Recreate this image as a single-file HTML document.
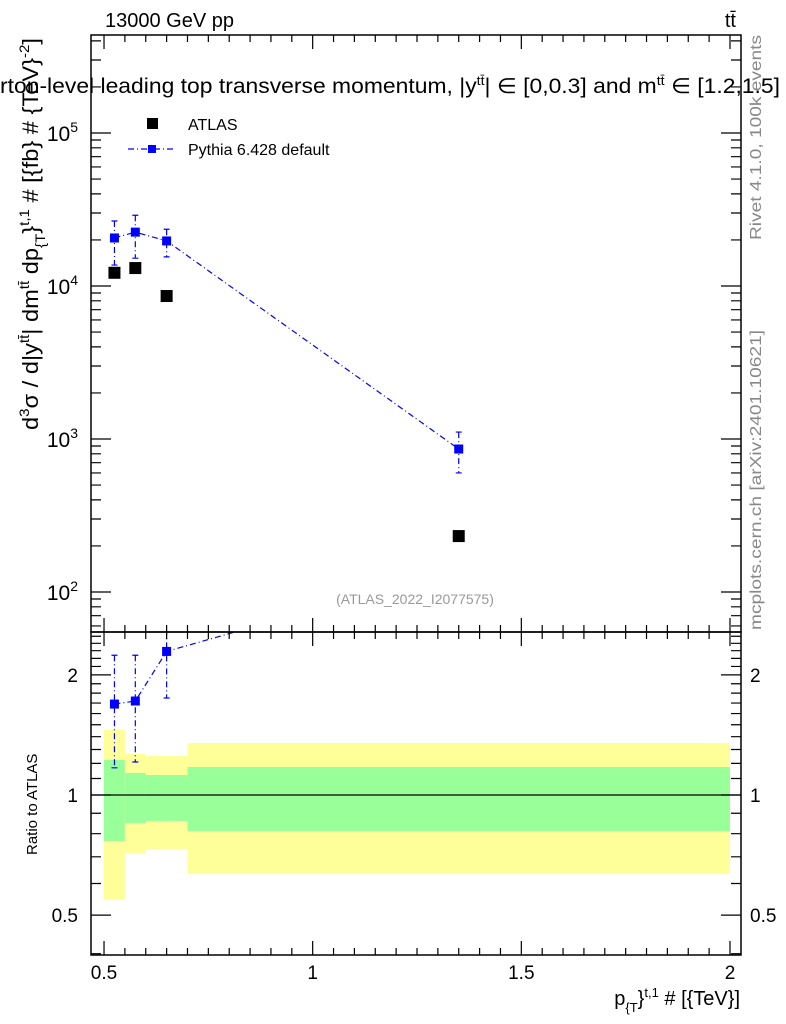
<!DOCTYPE html>
<html><head><meta charset="utf-8"><style>
html,body{margin:0;padding:0;background:#fff}
svg{display:block;font-family:"Liberation Sans",sans-serif}
</style></head><body>
<svg id="c" width="786" height="1024" viewBox="0 0 786 1024">
<defs><clipPath id="cm"><rect x="91" y="35" width="650" height="597"/></clipPath>
<clipPath id="cr"><rect x="91" y="632" width="650" height="323"/></clipPath></defs>
<g id="bands" clip-path="url(#cr)"></g>
<g id="marks"></g>
<g id="axes"></g>
<text x="105" y="27" font-size="20">13000 GeV pp</text>
<text x="736" y="27" font-size="20" text-anchor="end">tt̄</text>
<text x="0" y="93" font-size="21" textLength="780" lengthAdjust="spacingAndGlyphs">rton-level leading top transverse momentum, |y<tspan dy="-8" font-size="13">tt̄</tspan><tspan dy="8">| ∈ [0,0.3] and m</tspan><tspan dy="-8" font-size="13">tt̄</tspan><tspan dy="8"> ∈ [1.2,1.5]</tspan></text>
<rect x="147" y="118" width="11" height="11" fill="#000"/>
<text x="188" y="130" font-size="16">ATLAS</text>
<line x1="128" y1="149" x2="176" y2="149" stroke="#00f" stroke-width="1.2" stroke-dasharray="6,3,1,3"/>
<rect x="148" y="145" width="8" height="8" fill="#00f"/>
<text x="188" y="155" font-size="16">Pythia 6.428 default</text>
<text x="415" y="604" font-size="14" fill="#999" text-anchor="middle">(ATLAS_2022_I2077575)</text>
<text transform="translate(761,240) rotate(-90)" font-size="16" fill="#888" textLength="205" lengthAdjust="spacingAndGlyphs">Rivet 4.1.0,  100k events</text>
<text transform="translate(761,630) rotate(-90)" font-size="16" fill="#888" textLength="300" lengthAdjust="spacingAndGlyphs">mcplots.cern.ch [arXiv:2401.10621]</text>
<text transform="translate(38,430) rotate(-90)" font-size="22" textLength="392" lengthAdjust="spacingAndGlyphs">d<tspan dy="-9" font-size="14">3</tspan><tspan dy="9">σ / d|y</tspan><tspan dy="-9" font-size="14">tt̄</tspan><tspan dy="9">| dm</tspan><tspan dy="-9" font-size="14">tt̄</tspan><tspan dy="9"> dp</tspan><tspan dy="7" font-size="14">{T</tspan><tspan dy="-7">}</tspan><tspan dy="-9" font-size="14">t,1</tspan><tspan dy="9"> # [{fb} # {TeV}</tspan><tspan dy="-9" font-size="14">-2</tspan><tspan dy="9">]</tspan></text>
<text transform="translate(37,855) rotate(-90)" font-size="15">Ratio to ATLAS</text>
<text x="740" y="1005" font-size="20" text-anchor="end">p<tspan dy="7" font-size="13">{T</tspan><tspan dy="-7">}</tspan><tspan dy="-8" font-size="13">t,1</tspan><tspan dy="8"> # [{TeV}]</tspan></text>
</svg>
<script>
const binLo=[0.5,0.55,0.6,0.7];
const binHi=[0.55,0.6,0.7,2.0];
const xVals=[0.525,0.575,0.65,1.35];
const atlas=[12200,13100,8600,232];
const pythia=[20600,22500,19700,860];
const pythiaUp=[26600,29000,23500,1110];
const pythiaDn=[13700,15200,15500,600];
const ratio=[1.69,1.72,2.29,3.7];
const ratioUp=[2.24,2.24,2.6,4.8];
const ratioDn=[1.17,1.21,1.75,2.6];
const yellowUp=[1.455,1.267,1.252,1.35];
const yellowDn=[0.546,0.716,0.732,0.634];
const greenUp=[1.224,1.135,1.122,1.175];
const greenDn=[0.767,0.851,0.861,0.812];
const xTicks=[0.5,1,1.5,2];
const xTickLabels=["0.5","1","1.5","2"];
const yTicks=[100,1000,10000,100000];
const yTickLabels=["2","3","4","5"];
const rTicks=[0.5,1,2];
const rTickLabels=["0.5","1","2"];

const NS="http://www.w3.org/2000/svg";
const X0=91,X1=741,XA=0.4688,XB=2.0264;
const sx=v=>X0+(v-XA)/(XB-XA)*(X1-X0);
const sy=v=>286-(Math.log10(v)-4)*153;
const sr=v=>795-Math.log10(v)*399;
function mk(p,t,a){const e=document.createElementNS(NS,t);for(const k in a)e.setAttribute(k,a[k]);p.appendChild(e);return e;}
const B=document.getElementById('bands'),M=document.getElementById('marks'),A=document.getElementById('axes');
for(let i=0;i<binLo.length;i++){
 let r=mk(B,'rect',{x:sx(binLo[i]),y:sr(yellowUp[i]),width:sx(binHi[i])-sx(binLo[i]),height:sr(yellowDn[i])-sr(yellowUp[i]),fill:'#ffff99'});
 
 
 let g=mk(B,'rect',{x:sx(binLo[i]),y:sr(greenUp[i]),width:sx(binHi[i])-sx(binLo[i]),height:sr(greenDn[i])-sr(greenUp[i]),fill:'#99ff99'});
 
 
}
let one=mk(B,'line',{x1:X0,x2:X1,y1:sr(1),y2:sr(1),stroke:'#000','stroke-width':1.2});


const gm=mk(M,'g',{'clip-path':'url(#cm)'});
const gr=mk(M,'g',{'clip-path':'url(#cr)'});
const dash='6,3,1,3';
let pl=mk(gm,'polyline',{points:xVals.map((x,i)=>sx(x)+','+sy(pythia[i])).join(' '),fill:'none',stroke:'#00f','stroke-width':1.2,'stroke-dasharray':dash});


let rl=mk(gr,'polyline',{points:xVals.map((x,i)=>sx(x)+','+sr(ratio[i])).join(' '),fill:'none',stroke:'#00f','stroke-width':1.2,'stroke-dasharray':dash});


xVals.forEach((x,i)=>{
 const cx=sx(x);
 let a=mk(gm,'rect',{x:cx-6,y:sy(atlas[i])-6,width:12,height:12,fill:'#000'});
 
 
 let e=mk(gm,'path',{d:`M${cx},${sy(pythiaUp[i])}V${sy(pythiaDn[i])}M${cx-3},${sy(pythiaUp[i])}h6M${cx-3},${sy(pythiaDn[i])}h6`,stroke:'#00f','stroke-width':1.2,'stroke-dasharray':dash,fill:'none'});
 
 
 let p=mk(gm,'rect',{x:cx-4.5,y:sy(pythia[i])-4.5,width:9,height:9,fill:'#00f'});
 
 
 let re=mk(gr,'path',{d:`M${cx},${sr(ratioUp[i])}V${sr(ratioDn[i])}M${cx-3},${sr(ratioUp[i])}h6M${cx-3},${sr(ratioDn[i])}h6`,stroke:'#00f','stroke-width':1.2,'stroke-dasharray':dash,fill:'none'});
 
 
 let rp=mk(gr,'rect',{x:cx-4.5,y:sr(ratio[i])-4.5,width:9,height:9,fill:'#00f'});
 
 
});
[[35,632],[632,955]].forEach((f,k)=>{let r=mk(A,'rect',{x:X0,y:f[0],width:X1-X0,height:f[1]-f[0],fill:'none',stroke:'#000','stroke-width':1.5});
 
 });
let d='';
for(let v=0.5;v<=2.0001;v+=0.05){const x=sx(v),maj=Math.abs(v*2-Math.round(v*2))<1e-6,L=maj?14:7;
 d+=`M${x},35v${L}M${x},632v${-L}M${x},632v${L}M${x},955v${-L}`;}
for(let e=1;e<6;e++)for(let m=1;m<10;m++){const v=m*Math.pow(10,e),y=sy(v);if(y<35||y>632)continue;const L=m==1?20:10;d+=`M${X0},${y}h${L}M${X1},${y}h${-L}`;}
for(let v=0.4;v<=2.6;v+=0.1){const y=sr(v);if(y<632||y>955)continue;const maj=[0.5,1,2].some(t=>Math.abs(t-v)<1e-6);const L=maj?20:10;d+=`M${X0},${y}h${L}M${X1},${y}h${-L}`;}
let tk=mk(A,'path',{d:d,stroke:'#000','stroke-width':1.2,fill:'none'});


xTicks.forEach((v,i)=>{let t=mk(A,'text',{x:sx(v),y:979,'font-size':19,'text-anchor':'middle'});t.textContent=xTickLabels[i];
 
 });
yTicks.forEach((v,i)=>{let t=mk(A,'text',{x:78,y:sy(v)+8,'font-size':21,'text-anchor':'end'});t.textContent='10';
 let s=mk(t,'tspan',{dy:-9,'font-size':14});s.textContent=yTickLabels[i];
 
 });
rTicks.forEach((v,i)=>{[78,750].forEach(xx=>{let t=mk(A,'text',{x:xx,y:sr(v)+7,'font-size':19,'text-anchor':xx<100?'end':'start'});t.textContent=rTickLabels[i];
 
 });});
</script>
</body></html>
